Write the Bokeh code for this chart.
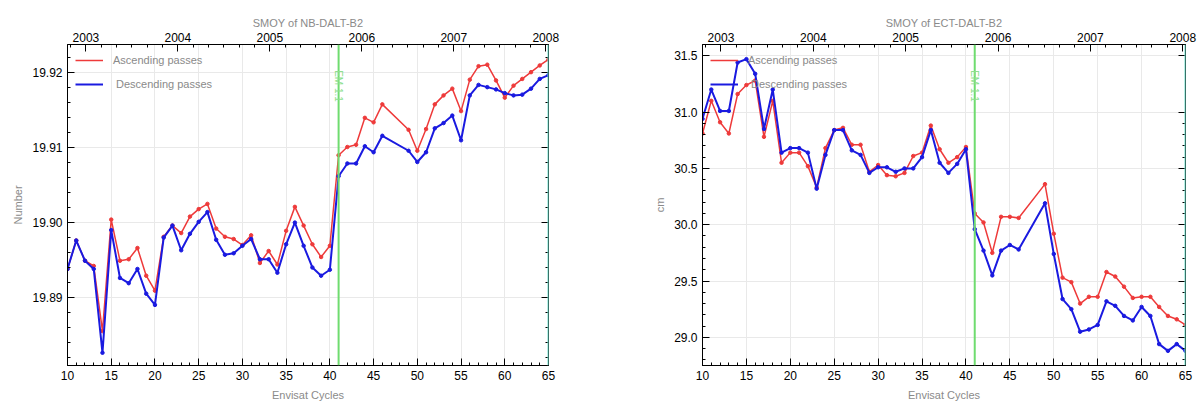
import math
from bokeh.plotting import figure
from bokeh.models import (LinearAxis, FixedTicker, PrintfTickFormatter, Span, Legend,
                          LegendItem, Range1d, Label, Grid, CustomLabelingPolicy)
from bokeh.layouts import row
from bokeh.embed import file_html
from bokeh.resources import INLINE

# ---------------- data ----------------
cycles = list(range(10, 47)) + list(range(49, 66))

nb_asc = [19.8938, 19.8976, 19.8949, 19.8942, 19.8855, 19.9004, 19.8949, 19.8951, 19.8966, 19.8929,
          19.8909, 19.8981, 19.8996, 19.8986, 19.9008, 19.9018, 19.9025, 19.8992, 19.8981, 19.8978,
          19.8970, 19.8983, 19.8946, 19.8962, 19.8944, 19.8989, 19.9021, 19.8996, 19.8971, 19.8954,
          19.8969, 19.9090, 19.9101, 19.9104, 19.9140, 19.9134, 19.9158,
          19.9124, 19.9096, 19.9125, 19.9158, 19.9170, 19.9179, 19.9149, 19.9191, 19.9209, 19.9211,
          19.9190, 19.9167, 19.9183, 19.9192, 19.9201, 19.9210, 19.9218]
nb_desc = [19.8938, 19.8976, 19.8949, 19.8938, 19.8826, 19.8990, 19.8926, 19.8919, 19.8938, 19.8905,
           19.8890, 19.8980, 19.8996, 19.8963, 19.8985, 19.9001, 19.9014, 19.8977, 19.8957, 19.8959,
           19.8969, 19.8978, 19.8951, 19.8951, 19.8933, 19.8971, 19.9000, 19.8969, 19.8940, 19.8929,
           19.8937, 19.9062, 19.9079, 19.9079, 19.9102, 19.9094, 19.9116,
           19.9096, 19.9081, 19.9094, 19.9126, 19.9133, 19.9143, 19.9110, 19.9170, 19.9184, 19.9181,
           19.9178, 19.9173, 19.9170, 19.9171, 19.9179, 19.9192, 19.9197]

ect_asc = [30.81, 31.10, 30.91, 30.81, 31.16, 31.24, 31.28, 30.78, 31.10, 30.55,
           30.64, 30.64, 30.52, 30.33, 30.68, 30.84, 30.86, 30.71, 30.71, 30.47,
           30.53, 30.44, 30.43, 30.46, 30.61, 30.64, 30.88, 30.67, 30.55, 30.60,
           30.69, 30.10, 30.02, 29.75, 30.07, 30.07, 30.06,
           30.36, 29.92, 29.53, 29.49, 29.30, 29.36, 29.36, 29.58, 29.54, 29.45,
           29.35, 29.36, 29.36, 29.27, 29.19, 29.16, 29.11]
ect_desc = [30.94, 31.20, 31.01, 31.01, 31.44, 31.47, 31.34, 30.85, 31.20, 30.64,
            30.68, 30.68, 30.64, 30.32, 30.62, 30.84, 30.84, 30.66, 30.62, 30.46,
            30.51, 30.51, 30.47, 30.50, 30.50, 30.60, 30.84, 30.55, 30.46, 30.54,
            30.67, 29.96, 29.77, 29.55, 29.77, 29.82, 29.78,
            30.19, 29.74, 29.34, 29.25, 29.05, 29.07, 29.11, 29.32, 29.28, 29.19,
            29.15, 29.27, 29.19, 28.94, 28.88, 28.94, 28.88]

years = [2003, 2004, 2005, 2006, 2007, 2008]
year_range = (2002.80, 2008.03)          # calendar span of cycles 10..65
cycle_range = (10, 65)
event_cycle = 41
event_label = "EM 1.1"
end_cycle = 65

nb_yticks = [19.89, 19.90, 19.91, 19.92]
ect_yticks = [29.0, 29.5, 30.0, 30.5, 31.0, 31.5]

FONT = "Liberation Sans"
RED = "#ee3a3a"
BLUE = "#1a1ae0"
GRAY = "#8a8a8a"


def make(title, asc, desc, yr, yticks, ystep_minor, fmt, ylabel, bl, br):
    p = figure(width=600, height=405, x_range=Range1d(*cycle_range), y_range=Range1d(*yr),
               output_backend="svg", toolbar_location=None,
               min_border_left=bl, min_border_right=br, min_border_top=44, min_border_bottom=40,
               x_axis_location=None, y_axis_location=None)
    p.outline_line_color = "black"
    p.outline_line_width = 1
    p.background_fill_color = "white"
    p.border_fill_color = "white"

    p.title.text = title
    p.title.align = "center"
    p.title.text_color = GRAY
    p.title.text_font = FONT
    p.title.text_font_size = "11px"
    p.title.text_font_style = "normal"
    p.title.standoff = 2

    # bottom axis
    xb = LinearAxis(ticker=FixedTicker(ticks=list(range(10, 66, 5)), minor_ticks=list(range(10, 66))),
                    axis_label="Envisat Cycles")
    # top year axis
    p.extra_x_ranges = {"years": Range1d(*year_range)}
    yminor_top = [y0 + k / 6 for y0 in range(2002, 2009) for k in range(6)]
    xt = LinearAxis(x_range_name="years", ticker=FixedTicker(ticks=years, minor_ticks=yminor_top),
                    formatter=PrintfTickFormatter(format="%d"))
    # left axis
    lo = yticks[0] - 1.0
    minors = [round(lo + i * ystep_minor, 6) for i in range(int(3.0 / ystep_minor) + 1)]
    yl = LinearAxis(ticker=FixedTicker(ticks=yticks, minor_ticks=minors),
                    formatter=PrintfTickFormatter(format=fmt), axis_label=ylabel)
    # right axis: ticks only, labels suppressed
    yrgt = LinearAxis(ticker=FixedTicker(ticks=yticks, minor_ticks=minors),
                      major_label_policy=CustomLabelingPolicy(code="return []"))

    for ax in (xb, xt, yl, yrgt):
        ax.axis_line_color = "black"
        ax.major_tick_in = 7
        ax.major_tick_out = 0
        ax.minor_tick_in = 3
        ax.minor_tick_out = 0
        ax.major_tick_line_color = "black"
        ax.minor_tick_line_color = "black"
        ax.major_label_text_font = FONT
        ax.major_label_text_color = "black"
        ax.major_label_text_font_size = "12px"
        ax.axis_label_text_font = FONT
        ax.axis_label_text_color = GRAY
        ax.axis_label_text_font_style = "normal"
        ax.axis_label_text_font_size = "11px"
    for ax in (xb, xt, yl):
        ax.major_label_standoff = 5
    xt.major_label_standoff = 3
    xb.axis_label_standoff = 6
    yrgt.major_label_standoff = 0
    yrgt.major_label_text_font_size = "1px"

    p.add_layout(xb, "below")
    p.add_layout(xt, "above")
    p.add_layout(yl, "left")
    p.add_layout(yrgt, "right")

    # grid
    p.add_layout(Grid(dimension=0, ticker=xb.ticker, grid_line_color="#e9e9e9", grid_line_width=1))
    p.add_layout(Grid(dimension=1, ticker=yl.ticker, grid_line_color="#e9e9e9", grid_line_width=1))

    # vertical markers
    p.add_layout(Span(location=event_cycle, dimension="height", line_color="#6fdc6f", line_width=2))
    p.add_layout(Span(location=end_cycle, dimension="height", line_color="#6fe3cf", line_width=2))
    ytxt = yr[1] - 0.08 * (yr[1] - yr[0])
    p.add_layout(Label(x=event_cycle, y=ytxt, x_offset=5, text=event_label, angle=-math.pi / 2,
                       text_align="left", text_baseline="top", text_color="#8ee08e",
                       text_font=FONT, text_font_size="10px"))

    la = p.line(cycles, asc, line_color=RED, line_width=1.5)
    p.scatter(cycles, asc, size=3.5, color=RED)
    ld = p.line(cycles, desc, line_color=BLUE, line_width=2)
    p.scatter(cycles, desc, size=3.5, color=BLUE)

    leg = Legend(items=[LegendItem(label="Ascending passes", renderers=[la]),
                        LegendItem(label=" Descending passes", renderers=[ld])],
                 location="top_left", margin=0, padding=8, spacing=8,
                 glyph_width=28, label_height=16, glyph_height=16, label_standoff=10,
                 background_fill_alpha=0, border_line_alpha=0,
                 label_text_color=GRAY, label_text_font=FONT, label_text_font_size="11px")
    p.add_layout(leg, "center")
    return p


p1 = make("SMOY of NB-DALT-B2", nb_asc, nb_desc, (19.8809, 19.9238), nb_yticks, 0.002, "%.2f",
          "Number", 67, 52)
p2 = make("SMOY of ECT-DALT-B2", ect_asc, ect_desc, (28.75, 31.60), ect_yticks, 0.1, "%.1f",
          "cm", 102, 15)

layout = row(p1, p2)
open("out.html", "w").write(file_html(layout, INLINE))
